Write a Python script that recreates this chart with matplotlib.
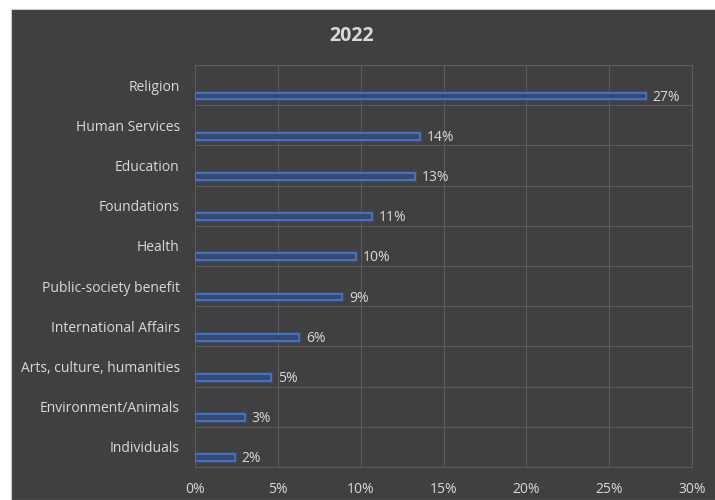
import matplotlib.pyplot as plt
from matplotlib.patches import Rectangle
import matplotlib.patheffects as pe
import numpy as np

# giving by category, share of total (2022)
categories = ['Religion', 'Human Services', 'Education', 'Foundations', 'Health',
              'Public-society benefit', 'International Affairs',
              'Arts, culture, humanities', 'Environment/Animals', 'Individuals']
values = [27.2, 13.6, 13.3, 10.7, 9.7, 8.9, 6.3, 4.6, 3.0, 2.4]
labels = ['27%', '14%', '13%', '11%', '10%', '9%', '6%', '5%', '3%', '2%']
xticks = [0, 5, 10, 15, 20, 25, 30]

bg = '#404040'
txt = '#d9d9d9'
grid = '#5c5c5c'
plt.rcParams['font.family'] = ['Open Sans', 'DejaVu Sans']

fig = plt.figure(figsize=(7.15, 5), dpi=100)
fig.patch.set_facecolor('white')
# dark chart area, leaving a thin white margin top and left
fig.add_artist(Rectangle((11/715, 0), 1, 1 - 9/500, transform=fig.transFigure,
                         facecolor=bg, edgecolor='#c8c8c8', lw=0.8, zorder=-10))

ax = fig.add_axes([195/715, 33/500, 497/715, 402/500])
ax.set_facecolor(bg)
ax.set_zorder(1)

n = len(categories)
y = np.arange(n)
bars = ax.barh(y + 0.27, values, height=0.17, color='#36496f', edgecolor='#4a78d0',
               linewidth=1.2, zorder=3)
for b in bars:
    b.set_path_effects([pe.withStroke(linewidth=3, foreground='#3b5480', alpha=0.6)])

for i in range(n):
    ax.text(values[i] + 0.4, y[i] + 0.3, labels[i], color=txt, fontsize=10,
            va='center', ha='left')

ax.set_xlim(0, 30)
ax.set_ylim(n - 0.5, -0.5)
ax.set_xticks(xticks)
ax.set_xticklabels([str(t) + '%' for t in xticks], color=txt, fontsize=10)
ax.set_yticks(y)
ax.set_yticklabels(categories, color=txt, fontsize=10)
ax.set_yticks(np.arange(-0.5, n, 1), minor=True)
ax.tick_params(axis='both', which='both', length=0)
ax.tick_params(axis='y', pad=11)
ax.tick_params(axis='x', pad=11)
ax.grid(axis='x', color=grid, lw=0.8, zorder=1)
ax.grid(axis='y', which='minor', color=grid, lw=0.8, zorder=1)
for s in ['top', 'right', 'bottom']:
    ax.spines[s].set_color(grid)
ax.spines['left'].set_visible(False)

fig.text(352/715, 1 - 36/500, '2022', color=txt, fontsize=14, fontweight='bold',
         ha='center', va='center')

fig.savefig('out.png', dpi=100, facecolor=fig.get_facecolor())
